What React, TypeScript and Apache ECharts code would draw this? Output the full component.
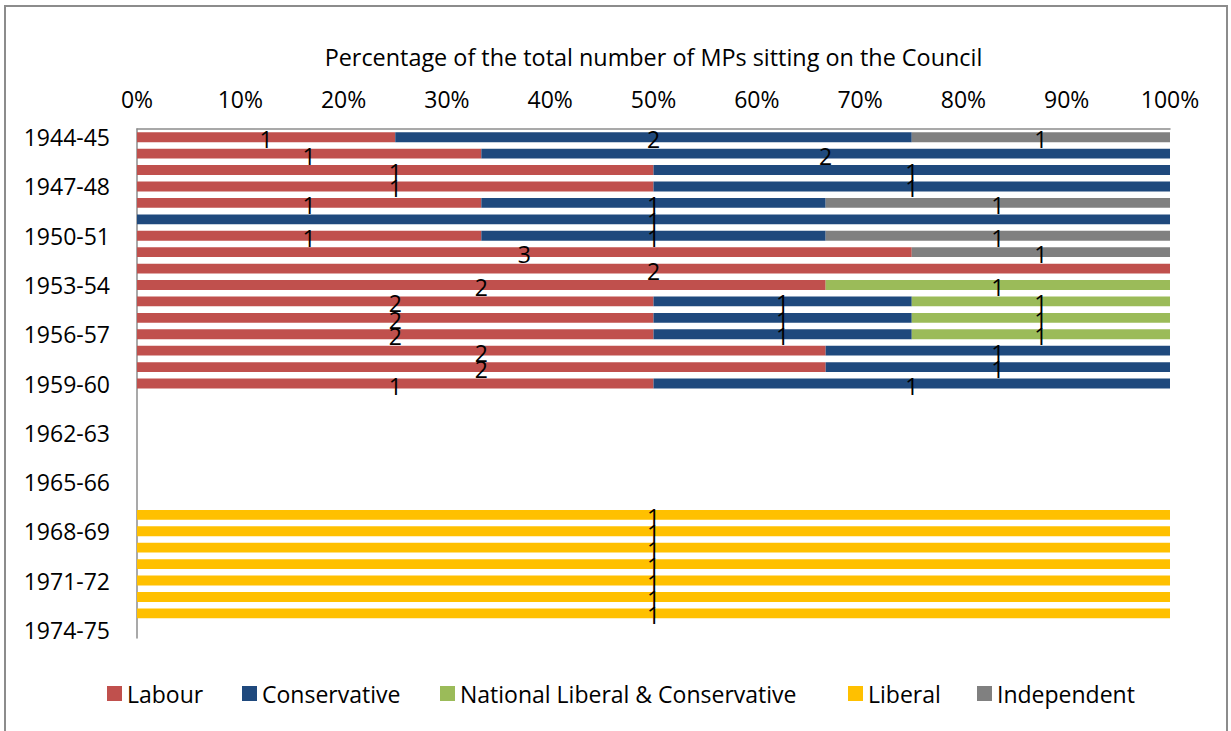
import React, { useEffect, useRef } from "react";
import * as echarts from "echarts";

const years: string[] = [
  "1944-45", "1945-46", "1946-47", "1947-48", "1948-49", "1949-50", "1950-51", "1951-52",
  "1952-53", "1953-54", "1954-55", "1955-56", "1956-57", "1957-58", "1958-59", "1959-60",
  "1960-61", "1961-62", "1962-63", "1963-64", "1964-65", "1965-66", "1966-67", "1967-68",
  "1968-69", "1969-70", "1970-71", "1971-72", "1972-73", "1973-74", "1974-75",
];

const labour: number[] = [1, 1, 1, 1, 1, 0, 1, 3, 2, 2, 2, 2, 2, 2, 2, 1, 0, 0, 0, 0, 0, 0, 0, 0, 0, 0, 0, 0, 0, 0, 0];
const conservative: number[] = [2, 2, 1, 1, 1, 1, 1, 0, 0, 0, 1, 1, 1, 1, 1, 1, 0, 0, 0, 0, 0, 0, 0, 0, 0, 0, 0, 0, 0, 0, 0];
const nationalLib: number[] = [0, 0, 0, 0, 0, 0, 0, 0, 0, 1, 1, 1, 1, 0, 0, 0, 0, 0, 0, 0, 0, 0, 0, 0, 0, 0, 0, 0, 0, 0, 0];
const liberal: number[] = [0, 0, 0, 0, 0, 0, 0, 0, 0, 0, 0, 0, 0, 0, 0, 0, 0, 0, 0, 0, 0, 0, 0, 1, 1, 1, 1, 1, 1, 1, 0];
const independent: number[] = [1, 0, 0, 0, 1, 0, 1, 1, 0, 0, 0, 0, 0, 0, 0, 0, 0, 0, 0, 0, 0, 0, 0, 0, 0, 0, 0, 0, 0, 0, 0];

const seriesNames: string[] = ["Labour", "Conservative", "National Liberal & Conservative", "Liberal", "Independent"];
const seriesColors: string[] = ["#C0504D", "#1F497D", "#9BBB59", "#FFC000", "#808080"];
const xTicks: number[] = [0, 10, 20, 30, 40, 50, 60, 70, 80, 90, 100];
const axisTitle = "Percentage of the total number of MPs sitting on the Council";

const FONT = "Open Sans";
const FS = 23;

export default function App() {
  const ref = useRef<HTMLDivElement>(null);

  useEffect(() => {
    if (!ref.current) return;
    const chart = echarts.init(ref.current, undefined, { renderer: "svg" });
    const counts = [labour, conservative, nationalLib, liberal, independent];
    const totals = years.map((_, i) => counts.reduce((s, arr) => s + arr[i], 0));

    const series = counts.map((arr, si) => ({
      name: seriesNames[si],
      type: "bar",
      stack: "total",
      barCategoryGap: "40%",
      itemStyle: { color: seriesColors[si] },
      label: {
        show: true,
        position: "inside",
        offset: [0, 2],
        color: "#000",
        fontFamily: FONT,
        fontSize: FS,
        formatter: (p: any) => String(arr[p.dataIndex]),
      },
      data: arr.map((c, i) => (c > 0 && totals[i] > 0 ? (c / totals[i]) * 100 : null)),
    }));

    const legendLefts = [107, 242, 440, 848, 977];
    const legends = seriesNames.map((n, i) => ({
      data: [n],
      left: legendLefts[i],
      top: 682,
      itemWidth: 15,
      itemHeight: 15,
      itemGap: 0,
      icon: "rect",
      textStyle: { fontFamily: FONT, fontSize: FS, color: "#000" },
      padding: 0,
    }));

    chart.setOption({
      animation: false,
      legend: legends,
      grid: { left: 137, right: 61, top: 129, bottom: 93, containLabel: false },
      xAxis: {
        type: "value",
        position: "top",
        min: xTicks[0],
        max: xTicks[xTicks.length - 1],
        interval: 10,
        axisLine: { show: true, lineStyle: { color: "#8c8c8c", width: 1.5 } },
        axisTick: { show: false },
        splitLine: { show: false },
        axisLabel: { formatter: "{value}%", color: "#000", fontFamily: FONT, fontSize: FS, margin: 19 },
      },
      yAxis: {
        type: "category",
        inverse: true,
        data: years,
        axisLine: { show: true, lineStyle: { color: "#8c8c8c", width: 1.5 } },
        axisTick: { show: false },
        axisLabel: { interval: 2, color: "#000", fontFamily: FONT, fontSize: FS, margin: 27 },
      },
      graphic: [
        {
          type: "rect",
          shape: { x: 5, y: 6, width: 1222, height: 740 },
          style: { fill: "none", stroke: "#8c8c8c", lineWidth: 2 },
          silent: true,
        },
        {
          type: "text",
          x: 653.5,
          y: 57,
          style: {
            text: axisTitle,
            fill: "#000",
            font: `23.4px "${FONT}"`,
            textAlign: "center",
            textVerticalAlign: "middle",
          },
        },
      ],
      series,
    });
    return () => chart.dispose();
  }, []);

  return <div ref={ref} style={{ position: "fixed", left: 0, top: 0, width: 1231, height: 731, background: "#fff" }} />;
}
